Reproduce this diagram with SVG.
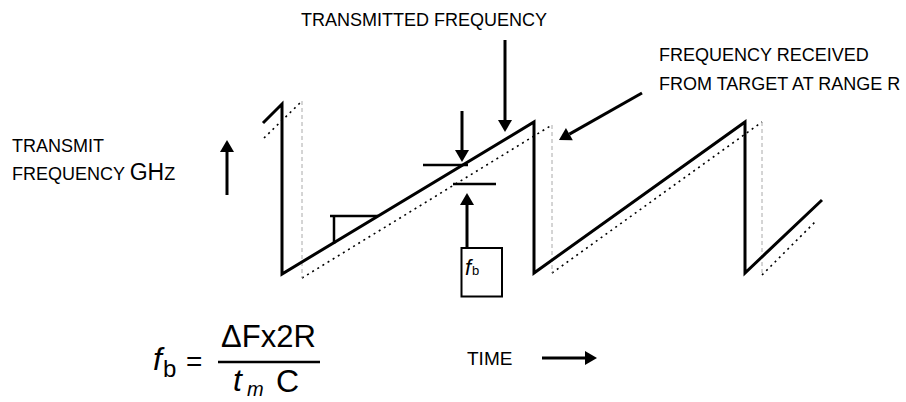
<svg xmlns="http://www.w3.org/2000/svg" width="906" height="402" viewBox="0 0 906 402">
<style>
text{font-family:"Liberation Sans",Arial,sans-serif;fill:#000}
.lbl{font-size:18px}
.wave{fill:none;stroke:#000;stroke-width:3;stroke-linejoin:miter}
.rx{fill:none;stroke:#000;stroke-width:1.6;stroke-dasharray:2 4}
.rxv{fill:none;stroke:#aaa;stroke-width:1;stroke-dasharray:4 3}
.tick{stroke:#000;stroke-width:2.5;fill:none}
.arr{stroke:#000;stroke-width:3;fill:none;marker-end:url(#ah)}
.it{font-style:italic}
</style>
<defs>
<marker id="ah" markerUnits="userSpaceOnUse" markerWidth="13" markerHeight="14" refX="0" refY="7" orient="auto" overflow="visible">
<path d="M0,0 L12,7 L0,14 z" fill="#000"/>
</marker>
</defs>
<rect width="906" height="402" fill="#fff"/>
<g id="received">
<polyline class="rx" points="264,138 302,101"/>
<polyline class="rx" points="302,278 552,125"/>
<polyline class="rx" points="552,273 762,122"/>
<polyline class="rx" points="762,275 817,220"/>
<line class="rxv" x1="302" y1="101" x2="302" y2="278"/>
<line class="rxv" x1="552" y1="125" x2="552" y2="273"/>
<line class="rxv" x1="762" y1="122" x2="762" y2="275"/>
</g>
<g id="transmitted">
<polyline class="wave" points="263,123 282,104 282,274 534,122 534,273 745,122 745,273 822,200"/>
</g>
<g id="slope-mark">
<polyline class="tick" points="330,216 378,216"/>
<line class="tick" x1="334" y1="216" x2="334" y2="244"/>
</g>
<g id="beat-marks">
<line class="tick" x1="423" y1="165" x2="468" y2="165"/>
<line class="tick" x1="453" y1="184" x2="496" y2="184"/>
</g>
<g id="connectors">
<line class="arr" x1="505" y1="40" x2="505" y2="120"/>
<line class="arr" x1="462" y1="111" x2="462" y2="150"/>
<line class="arr" x1="467" y1="248" x2="467" y2="205"/>
<line class="arr" x1="642" y1="93" x2="569.4" y2="134.1"/>
<line class="arr" x1="227" y1="195" x2="227" y2="152"/>
<line class="arr" x1="542" y1="358" x2="585" y2="358"/>
</g>
<g id="label-transmitted">
<text class="lbl" x="301" y="26">TRANSMITTED FREQUENCY</text>
</g>
<g id="label-received">
<text class="lbl" x="659" y="61">FREQUENCY RECEIVED</text>
<text class="lbl" x="659" y="90">FROM TARGET AT RANGE R</text>
</g>
<g id="label-axis">
<text class="lbl" x="12" y="152">TRANSMIT</text>
<text class="lbl" x="12" y="180">FREQUENCY <tspan font-size="23px">GH</tspan>Z</text>
</g>
<g id="fb-box">
<rect x="461.5" y="248" width="40.5" height="48.5" fill="#fff" stroke="#000" stroke-width="2"/>
<text x="465" y="275" font-size="22px" class="it">f</text>
<text x="472" y="275" font-size="13px">b</text>
</g>
<g id="label-time">
<text x="467" y="365" font-size="19px">TIME</text>
</g>
<g id="formula">
<text x="153" y="370" font-size="32px" class="it">f</text>
<text x="163" y="377" font-size="24px">b</text>
<text x="186" y="371" font-size="28px">=</text>
<text x="221" y="347" font-size="31px">ΔFx2R</text>
<line x1="218" y1="362" x2="320" y2="362" stroke="#000" stroke-width="2.5"/>
<text x="233" y="391" font-size="32px" class="it">t</text>
<text x="247" y="396" font-size="20px" class="it">m</text>
<text x="276" y="392" font-size="32px">C</text>
</g>
</svg>
